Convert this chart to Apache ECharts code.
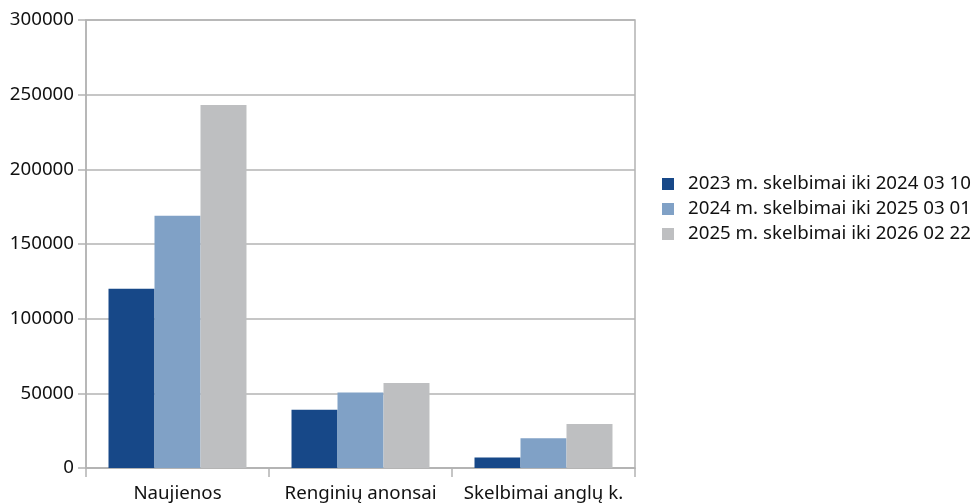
<!DOCTYPE html>
<html>
<head>
<meta charset="utf-8">
<script src="https://cdn.jsdelivr.net/npm/echarts@6/dist/echarts.min.js"></script>
<style>html,body{margin:0;padding:0;background:#fff}#c{width:980px;height:503px}</style>
</head>
<body>
<div id="c"></div>
<script>
const categories = ['Naujienos', 'Renginių anonsai', 'Skelbimai anglų k.'];
const seriesNames = ['2023 m. skelbimai iki 2024 03 10', '2024 m. skelbimai iki 2025 03 01', '2025 m. skelbimai iki 2026 02 22'];
const values2023 = [120000, 39000, 7000];
const values2024 = [169000, 50500, 20000];
const values2025 = [243000, 57000, 29500];
const colors = ['#174888', '#80a1c6', '#bebfc1'];
const yTicks = [0, 50000, 100000, 150000, 200000, 250000, 300000];

const font = 'Noto Sans';
const fs = 18.7;
const chart = echarts.init(document.getElementById('c'), null, {renderer: 'canvas'});
const data = [values2023, values2024, values2025];
chart.setOption({
  animation: false,
  color: colors,
  grid: {left: 86, right: 345, top: 20, bottom: 34, show: true, borderColor: '#b3b3b3', borderWidth: 1.5},
  legend: {
    orient: 'vertical', left: 657, top: 169,
    itemWidth: 12, itemHeight: 12, itemGap: 5,
    icon: 'rect',
    textStyle: {fontFamily: font, fontSize: fs, color: '#111', lineHeight: 20, padding: [0, 0, 0, 9]},
    data: seriesNames
  },
  xAxis: {
    type: 'category', data: categories,
    axisLine: {lineStyle: {color: '#b3b3b3', width: 1.5}},
    axisTick: {show: true, length: 9, lineStyle: {color: '#b3b3b3', width: 1.5}},
    axisLabel: {fontFamily: font, fontSize: fs, color: '#111', margin: 16, interval: 0}
  },
  yAxis: {
    type: 'value', min: yTicks[0], max: yTicks[yTicks.length - 1], interval: 50000,
    axisLine: {show: true, lineStyle: {color: '#b3b3b3', width: 1.5}},
    axisTick: {show: true, length: 8, lineStyle: {color: '#b3b3b3', width: 1.5}},
    splitLine: {lineStyle: {color: '#b3b3b3', width: 1.5}},
    axisLabel: {fontFamily: font, fontSize: fs, color: '#111', margin: 12, formatter: v => String(v)}
  },
  series: seriesNames.map((n, i) => ({
    name: n, type: 'bar', data: data[i],
    barGap: '0%', barCategoryGap: '24.6%',
    itemStyle: {color: colors[i]}
  }))
});
</script>
</body>
</html>
